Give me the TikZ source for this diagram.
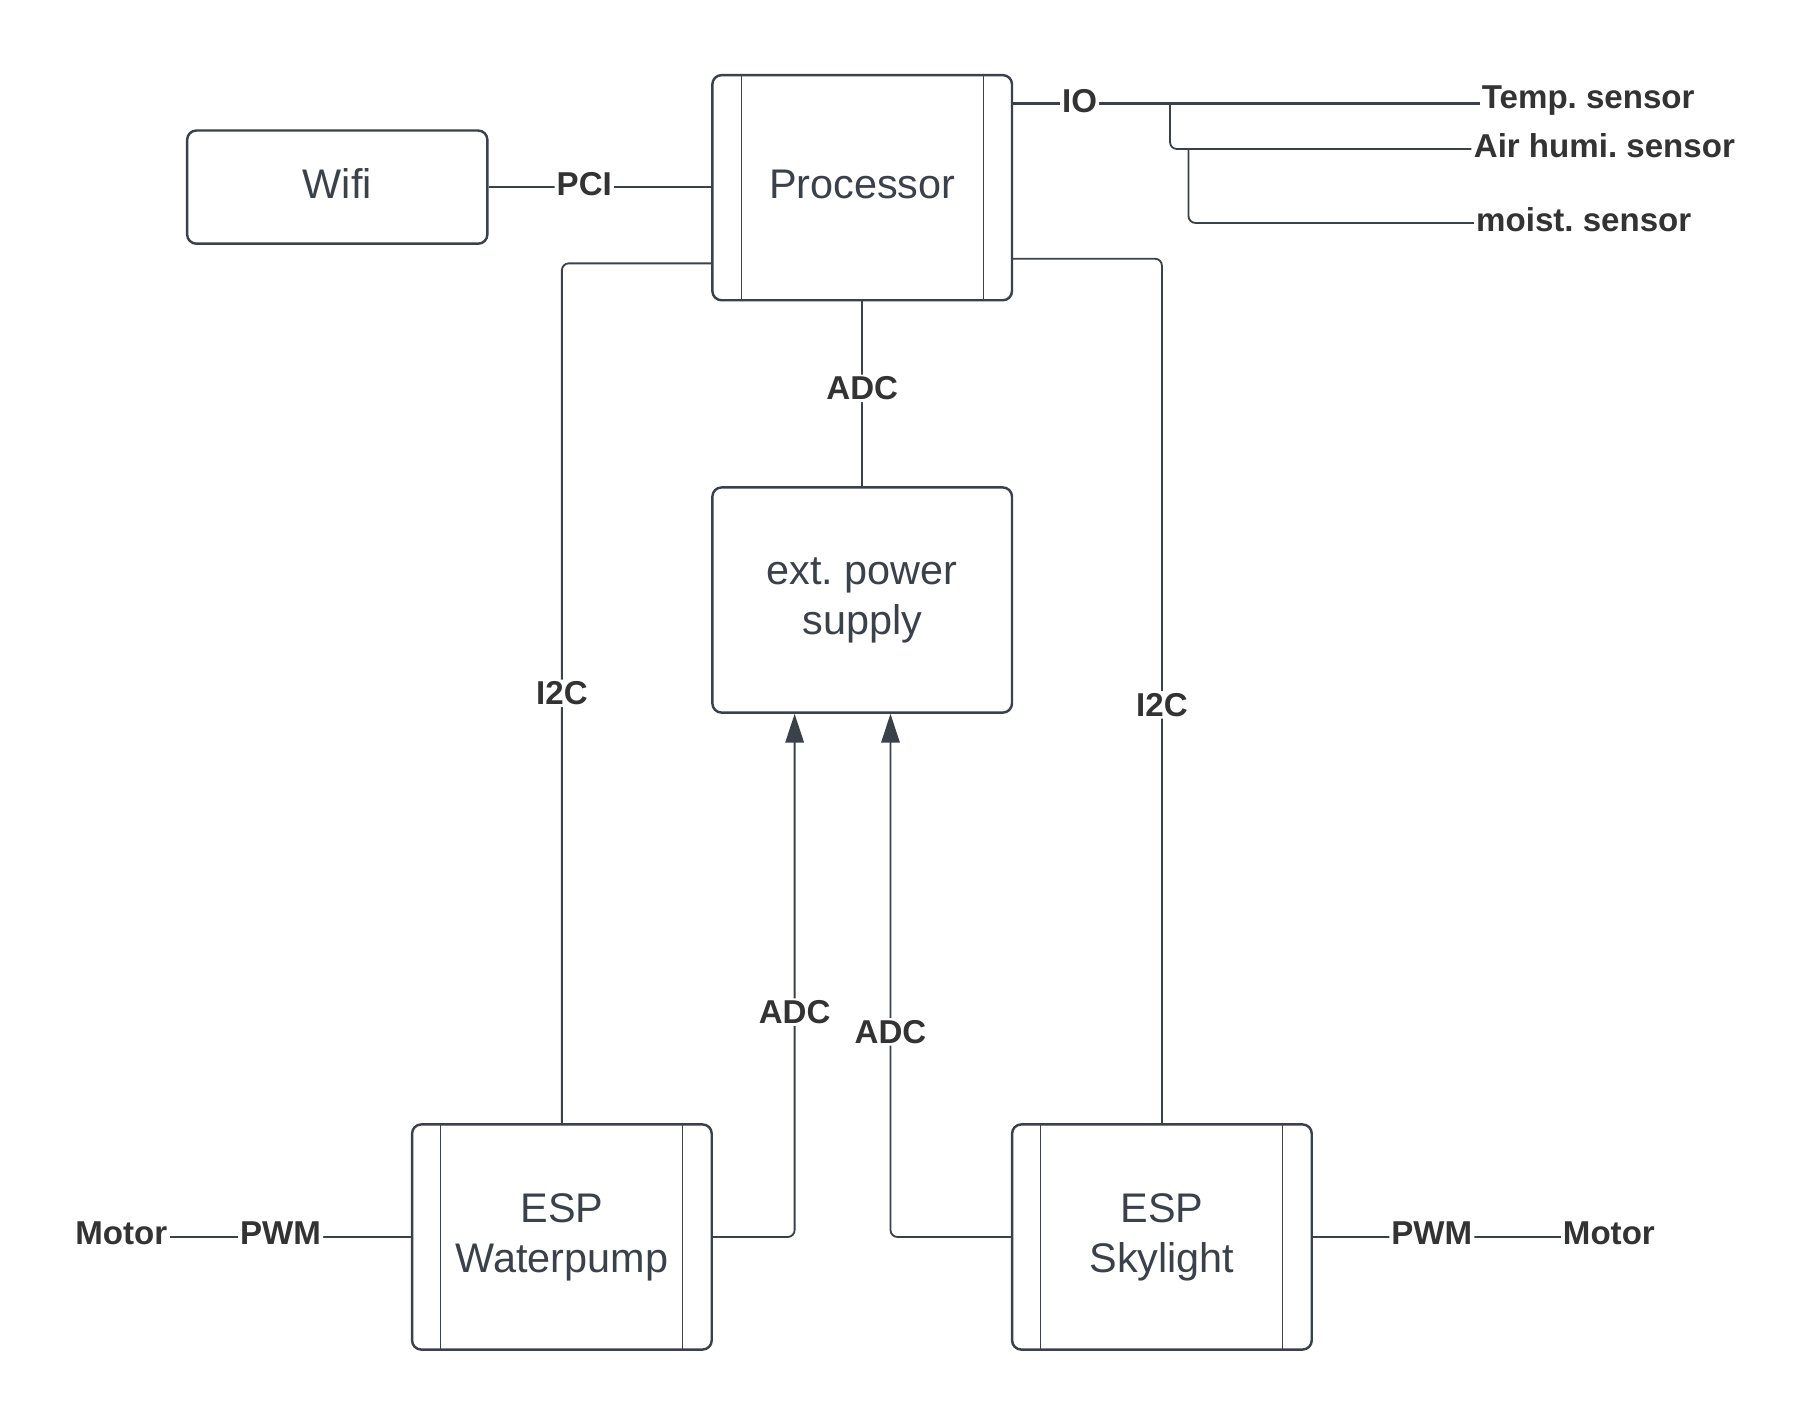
\documentclass[tikz,border=0pt]{standalone}
\usepackage{fontspec}
\setmainfont{Liberation Sans}
\usetikzlibrary{arrows.meta}
\frenchspacing
\definecolor{linec}{HTML}{3A414A}
\definecolor{boxtext}{HTML}{3A414A}
\definecolor{labtext}{HTML}{333333}
\tikzset{
  box/.style={draw=linec, line width=1.2pt, rounded corners=0.16cm, minimum width=5.19cm, minimum height=3.9cm, inner sep=0pt, align=center, text=boxtext, font=\fontsize{20.4}{24.6}\selectfont},
  conn/.style={draw=linec, line width=0.9pt, rounded corners=0.12cm},
  lab/.style={fill=white, text=labtext, inner sep=1pt, font=\bfseries\fontsize{16.3}{19}\selectfont},
  endlab/.style={text=labtext, inner sep=1pt, font=\bfseries\fontsize{16.3}{19}\selectfont},
  arr/.style={-{Triangle[length=0.5cm,width=0.32cm,fill=linec]}},
  inner/.style={draw=linec, line width=0.5pt}
}
\begin{document}
\begin{tikzpicture}[x=0.02cm,y=-0.02cm]
\useasboundingbox (0,0) rectangle (1568,1234);
% boxes
\node[box, minimum height=1.96cm, minimum width=5.2cm] (wifi) at (292,162) {\raisebox{0.12cm}{Wifi}};
\node[box] (proc) at (746.5,162.5) {\raisebox{0.12cm}{Processor}};
\node[box] (ps) at (746.5,519.5) {ext. power\\supply};
\node[box] (wp) at (486.5,1071) {ESP\\Waterpump};
\node[box] (sk) at (1006,1071) {ESP\\Skylight};
% inner lines
\foreach \n in {proc,wp,sk}{
  \draw[inner] ([xshift=0.52cm]\n.north west) -- ([xshift=0.52cm]\n.south west);
  \draw[inner] ([xshift=-0.52cm]\n.north east) -- ([xshift=-0.52cm]\n.south east);
}
% sensor labels
\node[endlab, anchor=west] (temp) at (1281,87) {Temp. sensor};
\node[endlab, anchor=west] (air) at (1274,126) {Air humi. sensor};
\node[endlab, anchor=west] (moist) at (1276,190) {moist. sensor};
\coordinate (pio) at (876,90);
\coordinate (b1) at (1013,90);
\coordinate (b2) at (1029,129);
\draw[conn, line width=1.5pt] (pio) -- (pio -| temp.west) node[lab, pos=0.145, yshift=0.05cm] {IO};
\draw[conn] (b1) |- (air.west |- b2);
\draw[conn] (b2) |- (moist.west |- 0,193);
% PCI
\draw[conn] (wifi.east) -- (proc.west |- wifi.east) node[lab, pos=0.43, yshift=0.05cm] {PCI};
% I2C
\coordinate (pl) at (617,228);
\coordinate (pr) at (876,224);
\draw[conn] (pl) -| (wp.north) node[lab, pos=0.75] {I2C};
\draw[conn] (pr) -| (sk.north) node[lab, pos=0.758] {I2C};
% ADC middle
\draw[conn] (proc.south) -- (ps.north) node[lab, pos=0.47] {ADC};
% ADC arrows
\coordinate (a1) at (688,618);
\coordinate (a2) at (771,618);
\draw[conn, arr] (wp.east) -| (a1) node[lab, pos=0.715] {ADC};
\draw[conn, arr] (sk.west) -| (a2) node[lab, pos=0.696] {ADC};
% motors
\node[endlab] (m1) at (105,1068) {Motor};
\node[endlab] (m2) at (1393,1068) {Motor};
\draw[conn] (m1.east |- wp.west) -- (wp.west) node[lab, pos=0.46, yshift=0.06cm] {PWM};
\draw[conn] (sk.east) -- (sk.east -| m2.west) node[lab, pos=0.48, yshift=0.06cm] {PWM};
\end{tikzpicture}
\end{document}
